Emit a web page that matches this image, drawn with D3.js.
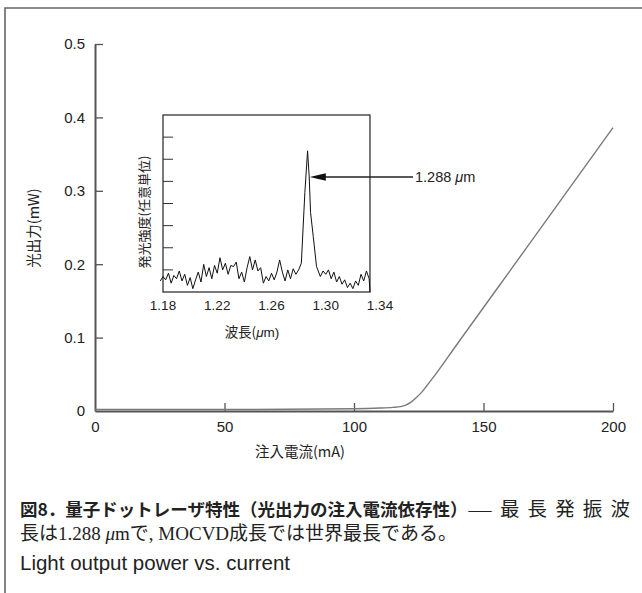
<!DOCTYPE html>
<meta charset="utf-8">
<style>
  body { margin: 0; background: #fff; }
  svg { display: block; }
  .tick text { font-family: "Liberation Sans", Arial, sans-serif; fill: #222; }
  .jp { font-family: "Noto Sans CJK JP", sans-serif; fill: #222; }
</style>
<svg width="642" height="593"></svg>
<script src="https://cdn.jsdelivr.net/npm/d3@7"></script>
<script>
// main curve: injection current (mA) vs light output (mW)
var current = [0, 50, 100, 110, 115, 118, 120, 122, 124, 126, 128, 130, 140, 150, 160, 170, 180, 190, 200];
var power   = [0.002, 0.002, 0.003, 0.004, 0.005, 0.006, 0.008, 0.012, 0.018, 0.025, 0.034, 0.043, 0.092, 0.141, 0.190, 0.239, 0.288, 0.337, 0.386];
var currentTicks = [0, 50, 100, 150, 200];
var powerTicks = [0, 0.1, 0.2, 0.3, 0.4, 0.5];

// inset spectrum: wavelength (um) vs intensity (arb. units)
var wavelength = [1.178, 1.180, 1.182, 1.184, 1.186, 1.188, 1.190, 1.192, 1.194, 1.196, 1.198, 1.200,
  1.202, 1.204, 1.206, 1.208, 1.210, 1.212, 1.214, 1.216, 1.218, 1.220, 1.222, 1.224, 1.226, 1.228,
  1.230, 1.232, 1.234, 1.236, 1.238, 1.240, 1.242, 1.244, 1.246, 1.248, 1.250, 1.252, 1.254, 1.256,
  1.258, 1.260, 1.262, 1.264, 1.266, 1.268, 1.270, 1.272, 1.274, 1.276, 1.278, 1.280, 1.282, 1.2846,
  1.2866, 1.2878, 1.2888, 1.2908, 1.2932, 1.296, 1.298, 1.300, 1.302, 1.304, 1.306, 1.308, 1.310,
  1.312, 1.314, 1.316, 1.318, 1.320, 1.322, 1.324, 1.326, 1.328, 1.330, 1.332, 1.3326];
var intensity = [0.5, 0.7, 0.55, 0.85, 0.4, 0.75, 0.6, 0.95, 0.5, 0.8, 0.3, 0.65,
  0.15, 0.55, 0.9, 0.45, 1.25, 0.7, 1.1, 0.6, 1.2, 0.85, 1.55, 1.0, 1.3, 0.8,
  1.2, 1.15, 1.35, 0.6, 0.9, 0.45, 1.1, 1.6, 1.0, 1.45, 0.95, 1.1, 0.4, 0.7,
  0.5, 0.85, 0.55, 0.9, 1.45, 0.9, 0.5, 1.0, 0.6, 1.05, 0.8, 1.0, 1.3, 4.5,
  6.38, 5.2, 3.6, 2.5, 1.15, 0.7, 0.95, 0.8, 1.0, 0.6, 0.9, 0.45, 0.7,
  0.35, 0.55, 0.2, 0.4, 0.15, 0.5, 0.3, 0.8, 0.5, 0.95, 0.6, 0.0];
var waveTicks = [1.18, 1.22, 1.26, 1.30, 1.34];
var intensityTicks = [1, 2, 3, 4, 5, 6, 7];
var peakWave = 1.2875;

var svg = d3.select("svg");

// outer frame (top and left edges)
svg.append("path")
  .attr("d", "M5,593V8H642")
  .attr("fill", "none")
  .attr("stroke", "#666")
  .attr("stroke-width", 1.6);

var x = d3.scaleLinear().domain([0, 200]).range([95, 613]);
var y = d3.scaleLinear().domain([0, 0.5]).range([411, 44]);

var gx = svg.append("g")
  .attr("transform", "translate(0,411)")
  .call(d3.axisBottom(x).tickValues(currentTicks).tickSizeInner(-8).tickSizeOuter(0).tickPadding(10).tickFormat(d3.format("d")));
gx.selectAll(".tick line").filter(function(d) { return d == 0; }).remove();

var gy = svg.append("g")
  .attr("transform", "translate(95,0)")
  .call(d3.axisLeft(y).tickValues(powerTicks).tickSizeInner(-8).tickSizeOuter(0).tickPadding(10)
    .tickFormat(function(d) { return d == 0 ? "0" : d3.format(".1f")(d); }));
gy.selectAll(".tick line").filter(function(d) { return d == 0; }).remove();

svg.selectAll(".domain").attr("stroke", "#555").attr("stroke-width", 2);
svg.selectAll(".tick line").attr("stroke", "#555").attr("stroke-width", 1.3);
svg.selectAll(".tick text").style("font-size", "15px").attr("fill", "#222");

svg.append("path")
  .datum(current.map(function(c, i) { return [c, power[i]]; }))
  .attr("fill", "none")
  .attr("stroke", "#7a7a7a")
  .attr("stroke-width", 1.4)
  .attr("d", d3.line().x(function(d) { return x(d[0]); }).y(function(d) { return y(d[1]); }).curve(d3.curveMonotoneX));

svg.append("text")
  .attr("class", "jp")
  .attr("x", 300).attr("y", 457)
  .attr("text-anchor", "middle")
  .style("font-size", "14.5px")
  .text("注入電流(mA)");

svg.append("text")
  .attr("class", "jp")
  .attr("transform", "translate(39,228) rotate(-90)")
  .attr("text-anchor", "middle")
  .style("font-size", "14.5px")
  .text("光出力(mW)");

// inset spectrum
var ix = d3.scaleLinear().domain([1.18, 1.34]).range([163, 380]);
var iy = d3.scaleLinear().domain([0, 8]).range([292, 115]);
var boxRight = ix(d3.max(wavelength));

svg.append("rect")
  .attr("x", ix(1.18)).attr("y", iy(8))
  .attr("width", boxRight - ix(1.18)).attr("height", iy(0) - iy(8))
  .attr("fill", "#fff")
  .attr("stroke", "#333")
  .attr("stroke-width", 1.3);

svg.selectAll(".itick").data(intensityTicks).enter().append("line")
  .attr("class", "itick")
  .attr("x1", ix(1.18)).attr("x2", ix(1.18) + 10)
  .attr("y1", function(d) { return iy(d); }).attr("y2", function(d) { return iy(d); })
  .attr("stroke", "#333").attr("stroke-width", 1);

svg.selectAll(".ilab").data(waveTicks).enter().append("text")
  .attr("class", "ilab")
  .attr("x", function(d) { return ix(d); })
  .attr("y", 310)
  .attr("text-anchor", "middle")
  .style("font-family", "'Liberation Sans', Arial, sans-serif")
  .style("font-size", "13.5px")
  .attr("fill", "#222")
  .text(function(d) { return d3.format(".2f")(d); });

svg.append("path")
  .datum(wavelength.map(function(w, i) { return [w, intensity[i]]; }))
  .attr("fill", "none")
  .attr("stroke", "#111")
  .attr("stroke-width", 1)
  .attr("stroke-linejoin", "round")
  .attr("d", d3.line().x(function(d) { return ix(d[0]); }).y(function(d) { return iy(d[1]); }));

var wl = svg.append("text")
  .attr("class", "jp")
  .attr("x", 252).attr("y", 337)
  .attr("text-anchor", "middle")
  .style("font-size", "13.5px");
wl.append("tspan").text("波長(");
wl.append("tspan").style("font-style", "italic").style("font-family", "'Liberation Sans', sans-serif").text("μ");
wl.append("tspan").style("font-family", "'Liberation Sans', sans-serif").text("m)");

svg.append("text")
  .attr("class", "jp")
  .attr("transform", "translate(149,212) rotate(-90)")
  .attr("text-anchor", "middle")
  .style("font-size", "13px")
  .text("発光強度(任意単位)");

// arrow annotation for the peak
var tipX = ix(peakWave) + 1, arrowY = 177;
svg.append("line")
  .attr("x1", tipX + 14).attr("x2", 413)
  .attr("y1", arrowY).attr("y2", arrowY)
  .attr("stroke", "#222").attr("stroke-width", 1.3);
svg.append("path")
  .attr("d", "M" + tipX + "," + arrowY + "l16,-3.8v7.6z")
  .attr("fill", "#111");
var al = svg.append("text")
  .attr("x", 415).attr("y", arrowY + 5)
  .style("font-family", "'Liberation Sans', Arial, sans-serif")
  .style("font-size", "14.5px")
  .attr("fill", "#222");
al.append("tspan").text("1.288 ");
al.append("tspan").style("font-style", "italic").text("μ");
al.append("tspan").text("m");

// caption
var c1 = svg.append("text").attr("y", 516).style("font-size", "17.5px");
c1.append("tspan").attr("class", "jp").attr("x", 20).style("font-weight", "bold").text("図8．量子ドットレーザ特性（光出力の注入電流依存性）");
c1.append("tspan").attr("class", "jp").attr("x", 467).attr("textLength", 26).attr("lengthAdjust", "spacingAndGlyphs").text("—");
c1.append("tspan").attr("class", "jp").attr("x", 500).attr("textLength", 130).style("font-size", "19.5px").text("最長発振波");

var c2 = svg.append("text").attr("x", 20).attr("y", 540).style("font-size", "19px")
  .style("font-family", "'Liberation Serif', 'Noto Sans CJK JP', serif").attr("fill", "#222");
c2.append("tspan").text("長は1.288 ");
c2.append("tspan").style("font-style", "italic").text("μ");
c2.append("tspan").text("mで, MOCVD成長では世界最長である。");

svg.append("text")
  .attr("x", 20).attr("y", 570)
  .style("font-family", "'Liberation Sans', Arial, sans-serif")
  .style("font-size", "20.5px")
  .attr("fill", "#222")
  .text("Light output power vs. current");
</script>
